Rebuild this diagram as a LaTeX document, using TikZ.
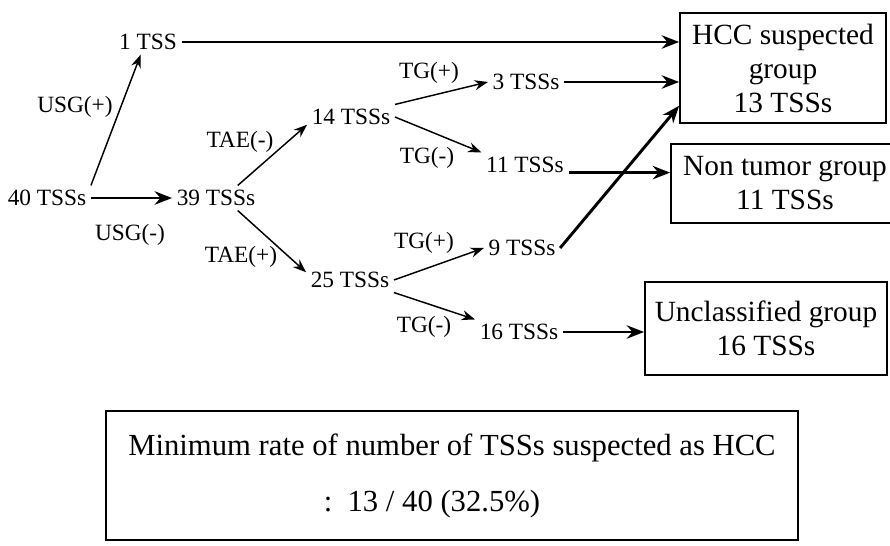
\documentclass[tikz,border=0pt]{standalone}
\usepackage{fontspec}
\setmainfont{Liberation Serif}
\usetikzlibrary{arrows.meta,positioning}

\begin{document}
\begin{tikzpicture}[x=0.75pt,y=-0.75pt,
  cnt/.style={font=\fontsize{17.5}{20}\selectfont},
  grp/.style={draw,line width=1.3pt,align=center,inner sep=0pt,font=\fontsize{22}{25.5}\selectfont},
  splitarrow/.style={-{Stealth[length=10pt,width=7.5pt]},line width=1.1pt},
  grouparrow/.style={-{Stealth[length=13pt,width=10pt]},line width=2.2pt}]
  \useasboundingbox (0,0) rectangle (890,546);
  % counts
  \node[cnt] (n40) at (47,198) {40 TSSs};
  \node[cnt] (n1) at (148,42) {1 TSS};
  \node[cnt] (n39) at (216,198) {39 TSSs};
  \node[cnt] (n14) at (351,117) {14 TSSs};
  \node[cnt] (n25) at (350,280) {25 TSSs};
  \node[cnt] (n3) at (526,82) {3 TSSs};
  \node[cnt] (n11) at (525,165) {11 TSSs};
  \node[cnt] (n9) at (522,248) {9 TSSs};
  \node[cnt] (n16) at (519,332) {16 TSSs};
  % test labels
  \node[cnt] (usgp) at (75,107) {USG(+)};
  \node[cnt] (usgm) at (130,235) {USG(-)};
  \node[cnt] (taem) at (240,142) {TAE(-)};
  \node[cnt] (taep) at (241,257) {TAE(+)};
  \node[cnt] (tgpa) at (429,73) {TG(+)};
  \node[cnt] (tgma) at (427,158) {TG(-)};
  \node[cnt] (tgpb) at (424,243) {TG(+)};
  \node[cnt] (tgmb) at (424,327) {TG(-)};
  % groups
  \node[grp,minimum width=154.5pt,minimum height=82.5pt] (hcc) at (783,68) {HCC suspected\\group\\13 TSSs};
  \node[grp,minimum width=171pt,minimum height=59.25pt] (non) at (785,183.5) {Non tumor group\\11 TSSs};
  \node[grp,minimum width=181.5pt,minimum height=69.75pt] (unc) at (766,328.5) {Unclassified group\\16 TSSs};
  \node[draw,line width=1.2pt,align=center,inner sep=0pt,minimum width=519pt,minimum height=96.75pt,
        font=\fontsize{23}{42}\selectfont] (rate) at (452,475.5)
        {Minimum rate of number of TSSs suspected as HCC\\:\enspace 13 / 40 (32.5\%)\hspace*{30pt}};
  % branches
  \draw[splitarrow] (n40.north east) -- (n1.240);
  \draw[grouparrow] (n40.east) -- (n39.west);
  \draw[splitarrow] (n39.30) -- (n14.190);
  \draw[splitarrow] (n39.330) -- (n25.170);
  \draw[splitarrow] (n14.north east) -- (n3.west);
  \draw[splitarrow] (n14.east) -- (n11.north west);
  \draw[splitarrow] (n25.east) -- (n9.west);
  \draw[splitarrow] (n25.south east) -- (n16.north west);
  % into the groups
  \draw[grouparrow] (n1.east) -- (n1.east -| hcc.west);
  \draw[grouparrow] (n3.east) -- (n3.east -| hcc.west);
  \draw[grouparrow] (n9.east) -- (hcc.200);
  \draw[grouparrow] (n11.base east) -- (n11.base east -| non.west);
  \draw[grouparrow] (n16.east) -- (n16.east -| unc.west);
\end{tikzpicture}
\end{document}
